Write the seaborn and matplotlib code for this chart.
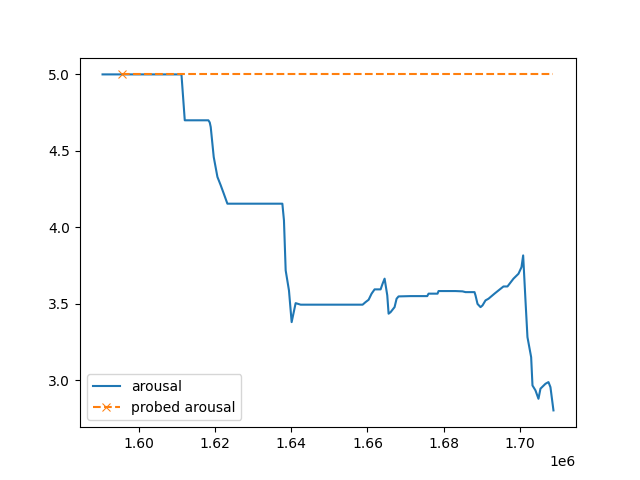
import matplotlib
matplotlib.use("Agg")
import matplotlib.pyplot as plt
import seaborn as sns
import pandas as pd

time = [1590400, 1611130, 1612000, 1618200, 1618560, 1618820, 1619610, 1620580,
        1621450, 1622230, 1623200, 1637640, 1638060, 1638510, 1639375, 1640080,
        1641130, 1642450, 1658720, 1659510, 1660300, 1661080, 1661870, 1663450,
        1663970, 1664500, 1665200, 1665550, 1666070, 1667120, 1667650, 1668170,
        1671320, 1675700, 1676050, 1678410, 1678670, 1683130, 1684970, 1685760,
        1688120, 1688380, 1688910, 1689700, 1690220, 1691010, 1691800, 1693370,
        1694420, 1695730, 1696780, 1698360, 1699670, 1700460, 1700900, 1701510,
        1702030, 1703000, 1703350, 1704130, 1704920, 1705450, 1706760, 1707550,
        1708070, 1708860]
arousal = [5.0, 5.0, 4.70, 4.70, 4.686, 4.656, 4.46, 4.33,
           4.275, 4.222, 4.155, 4.155, 4.046, 3.719, 3.588, 3.381,
           3.505, 3.495, 3.495, 3.512, 3.527, 3.567, 3.595, 3.595,
           3.632, 3.665, 3.556, 3.436, 3.446, 3.479, 3.534, 3.549,
           3.551, 3.551, 3.567, 3.567, 3.584, 3.584, 3.582, 3.577,
           3.577, 3.556, 3.50, 3.479, 3.49, 3.523, 3.534, 3.567,
           3.588, 3.614, 3.614, 3.665, 3.697, 3.74, 3.817, 3.523,
           3.283, 3.152, 2.967, 2.935, 2.88, 2.946, 2.978, 2.989,
           2.956, 2.804]

probe_time = [1595460, 1708860]
probed_arousal = [5.0, 5.0]

df = pd.DataFrame({"time": time, "arousal": arousal})
dp = pd.DataFrame({"time": probe_time, "probed": probed_arousal})

fig, ax = plt.subplots(figsize=(6.4, 4.8), dpi=100)
sns.lineplot(data=df, x="time", y="arousal", ax=ax, color="C0",
             estimator=None, label="arousal")
sns.lineplot(data=dp, x="time", y="probed", ax=ax, color="C1",
             estimator=None, linestyle="--", marker="x", markevery=[0],
             markeredgecolor="C1", label="probed arousal")
ax.set_xlabel("")
ax.set_ylabel("")
ax.legend(loc="lower left")
fig.savefig("out.png", dpi=100)
